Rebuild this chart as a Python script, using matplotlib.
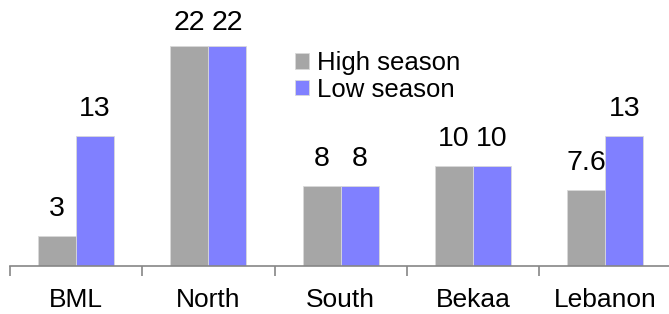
import matplotlib
matplotlib.use("Agg")
import matplotlib.pyplot as plt
import numpy as np

plt.rcParams['font.family'] = ['Liberation Sans', 'DejaVu Sans']

# Data
regions = ["BML", "North", "South", "Bekaa", "Lebanon"]
high_season = [3, 22, 8, 10, 7.6]
low_season = [13, 22, 8, 10, 13]
high_labels = ["3", "22", "8", "10", "7.6"]
low_labels = ["13", "22", "8", "10", "13"]

fig = plt.figure(figsize=(6.69, 3.14), dpi=100)
ax = fig.add_axes([10 / 669, 48 / 314, 661.5 / 669, 266 / 314])

x = np.arange(len(regions))
w = 0.287
b1 = ax.bar(x - w / 2, high_season, w, color="#A6A6A6", edgecolor="#D9D9D9",
            linewidth=0.6, label="High season")
b2 = ax.bar(x + w / 2, low_season, w, color="#8080FF", edgecolor="#D9D9D9",
            linewidth=0.6, label="Low season")

# labels; the tallest pair sits a bit lower so it stays inside the figure
tall = max(high_season + low_season)
for bars, labs, vals in [(b1, high_labels, high_season), (b2, low_labels, low_season)]:
    ax.bar_label(bars, labels=[l if v < tall else "" for l, v in zip(labs, vals)],
                 padding=10, fontsize=20.5)
    ax.bar_label(bars, labels=[l if v >= tall else "" for l, v in zip(labs, vals)],
                 padding=7, fontsize=20.5)

ax.set_xlim(-0.5, 4.5)
ax.set_ylim(0, 26.6)

for s in ["top", "right", "left"]:
    ax.spines[s].set_visible(False)
ax.spines["bottom"].set_color("#868686")
ax.spines["bottom"].set_linewidth(1.2)

ax.set_yticks([])
ax.set_xticks(x)
ax.set_xticklabels(regions, fontsize=19)
ax.tick_params(axis="x", which="major", length=0, pad=16)
ax.set_xticks(np.arange(-0.5, 5, 1), minor=True)
ax.tick_params(axis="x", which="minor", length=7, width=1.2, color="#868686")

ax.legend(loc="upper left", bbox_to_anchor=(295 / 669, 1 - 51 / 314),
          bbox_transform=fig.transFigure, frameon=False, fontsize=18.5,
          handlelength=0.55, handleheight=0.55, handletextpad=0.3,
          labelspacing=0.1, borderpad=0, borderaxespad=0)

fig.savefig("out.png", dpi=100)
